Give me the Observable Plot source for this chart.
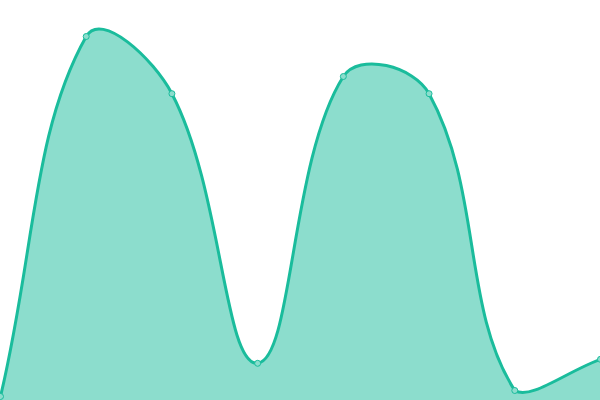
<!DOCTYPE html>
<html>
<head>
<meta charset="utf-8">
<script src="https://cdn.jsdelivr.net/npm/d3@7"></script>
<script src="https://cdn.jsdelivr.net/npm/@observablehq/plot@0.6"></script>
<style>
html, body { margin: 0; padding: 0; background: #fff; }
</style>
</head>
<body>
<div id="chart"></div>
<script>
const xs = [0, 1, 2, 3, 4, 5, 6, 7];
const values = [1, 91, 76.7, 9.3, 81, 76.7, 2.5, 10.3];

const data = xs.map((x, i) => ({x, y: values[i]}));

const W = 600, H = 400;

// Distance-weighted spline (tension 0.4) with control points capped to the frame
function SplineCurve(context) { this._context = context; }
SplineCurve.prototype = {
  areaStart() { this._line = 0; },
  areaEnd() { this._line = NaN; },
  lineStart() { this._pts = []; },
  point(x, y) { this._pts.push([+x, +y]); },
  lineEnd() {
    const p = this._pts, n = p.length, c = this._context, t = 0.4;
    if (n) {
      const cp = p.map((cur, i) => {
        const prev = p[i - 1] || cur, next = p[i + 1] || cur;
        const d01 = Math.hypot(cur[0] - prev[0], cur[1] - prev[1]);
        const d12 = Math.hypot(next[0] - cur[0], next[1] - cur[1]);
        let s01 = d01 / (d01 + d12), s12 = d12 / (d01 + d12);
        if (isNaN(s01)) s01 = 0;
        if (isNaN(s12)) s12 = 0;
        const fa = t * s01, fb = t * s12;
        const cl = (v, lo, hi) => Math.max(lo, Math.min(hi, v));
        return {
          px: cl(cur[0] - fa * (next[0] - prev[0]), 0, W),
          py: cl(cur[1] - fa * (next[1] - prev[1]), 0, H),
          nx: cl(cur[0] + fb * (next[0] - prev[0]), 0, W),
          ny: cl(cur[1] + fb * (next[1] - prev[1]), 0, H)
        };
      });
      if (this._line) c.lineTo(p[0][0], p[0][1]); else c.moveTo(p[0][0], p[0][1]);
      for (let i = 1; i < n; i++) {
        c.bezierCurveTo(cp[i - 1].nx, cp[i - 1].ny, cp[i].px, cp[i].py, p[i][0], p[i][1]);
      }
    }
    if (this._line || (this._line !== 0 && n === 1)) c.closePath();
    this._line = 1 - this._line;
  }
};
const spline = (context) => new SplineCurve(context);

const chart = Plot.plot({
  width: W,
  height: H,
  margin: 0,
  x: {domain: [0, 7], axis: null},
  y: {domain: [0, 100], axis: null},
  marks: [
    Plot.areaY(data, {x: "x", y: "y", curve: spline, fill: "#1abc9c", fillOpacity: 0.5}),
    Plot.lineY(data, {x: "x", y: "y", curve: spline, stroke: "#1abc9c", strokeWidth: 3}),
    Plot.dot(data, {x: "x", y: "y", r: 3, fill: "#8cddcd", stroke: "#1abc9c", strokeWidth: 1})
  ]
});
document.getElementById("chart").appendChild(chart);
</script>
</body>
</html>
